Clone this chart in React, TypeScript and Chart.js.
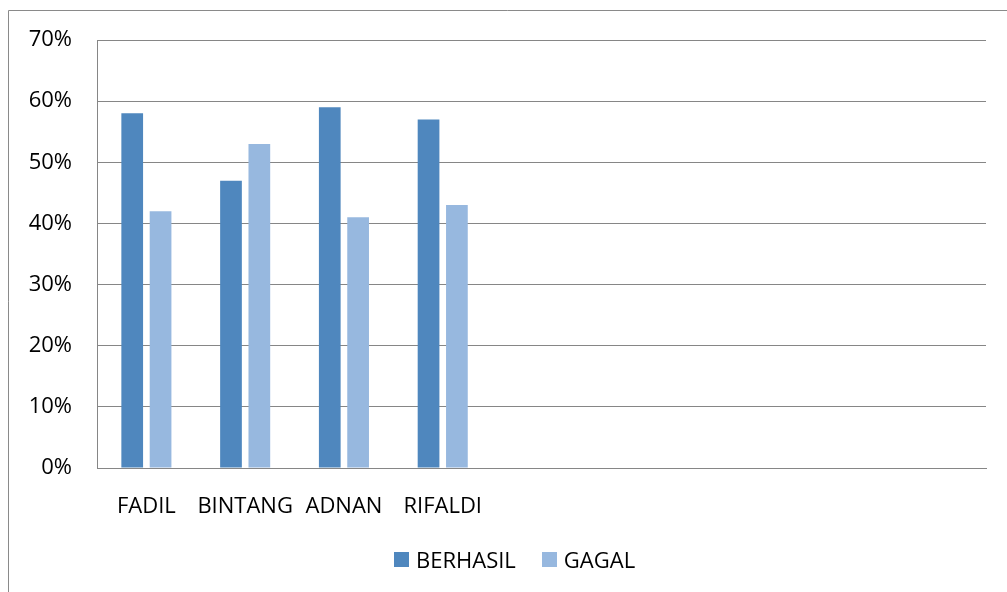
import React, { useEffect, useRef } from "react";
import { Chart, registerables } from "chart.js";

Chart.register(...registerables);

const categories = ["FADIL", "BINTANG", "ADNAN", "RIFALDI", "", "", "", "", ""];
const berhasil = [58, 47, 59, 57];
const gagal = [42, 53, 41, 43];
const yTicks = [0, 10, 20, 30, 40, 50, 60, 70];
const seriesNames = ["BERHASIL", "GAGAL"];
const seriesColors = ["#4F87BE", "#97B8DF"];

const FONT = "'Open Sans', 'Noto Sans', sans-serif";
const GRID = "#868686";

const outerBorder = {
  id: "outerBorder",
  afterDraw(chart: any) {
    const ctx = chart.ctx;
    ctx.save();
    ctx.strokeStyle = "#8a8a8a";
    ctx.lineWidth = 1;
    ctx.beginPath();
    ctx.moveTo(8.5, 592);
    ctx.lineTo(8.5, 10.5);
    ctx.lineTo(1007, 10.5);
    ctx.stroke();
    ctx.restore();
  },
};

export default function App() {
  const ref = useRef<HTMLCanvasElement | null>(null);

  useEffect(() => {
    if (!ref.current) return;
    const chart = new Chart(ref.current, {
      type: "bar",
      data: {
        labels: categories,
        datasets: [
          {
            label: seriesNames[0],
            data: berhasil,
            backgroundColor: seriesColors[0],
            categoryPercentage: 0.574,
            barPercentage: 0.766,
          },
          {
            label: seriesNames[1],
            data: gagal,
            backgroundColor: seriesColors[1],
            categoryPercentage: 0.574,
            barPercentage: 0.766,
          },
        ],
      },
      options: {
        responsive: false,
        animation: false,
        devicePixelRatio: 1,
        layout: { padding: { left: 0, right: 21, top: 40, bottom: 70 } },
        plugins: {
          tooltip: { enabled: false },
          legend: { display: false },
        },
        scales: {
          x: {
            grid: { display: false, drawTicks: false },
            border: { display: true, color: GRID, width: 1 },
            ticks: {
              color: "#000",
              font: { family: FONT, size: 22 },
              padding: 26,
              maxRotation: 0,
              autoSkip: false,
            },
            afterFit(scale: any) {
              scale.height = 54;
            },
          },
          y: {
            min: 0,
            max: 70,
            grid: { color: GRID, lineWidth: 1, drawTicks: false },
            border: { display: true, color: GRID, width: 1 },
            afterBuildTicks(scale: any) {
              scale.ticks = yTicks.map((v) => ({ value: v }));
            },
            ticks: {
              color: "#000",
              font: { family: FONT, size: 22 },
              padding: 25,
              callback: (v: any) => v + "%",
            },
            afterFit(scale: any) {
              scale.width = 97;
            },
          },
        },
      },
      plugins: [outerBorder],
    });
    return () => chart.destroy();
  }, []);

  return (
    <div style={{ position: "absolute", left: 0, top: 0, width: 1007, height: 592, background: "#fff" }}>
      <canvas ref={ref} width={1007} height={592} style={{ display: "block" }} />
      <div
        style={{
          position: "absolute",
          left: 394,
          top: 544,
          height: 30,
          display: "flex",
          alignItems: "center",
          fontFamily: FONT,
          fontSize: 22,
          color: "#000",
          whiteSpace: "nowrap",
          lineHeight: "30px",
        }}
      >
        {seriesNames.map((name, i) => (
          <div key={name} style={{ display: "flex", alignItems: "center", marginRight: i === 0 ? 26 : 0 }}>
            <span style={{ display: "inline-block", width: 15, height: 15, background: seriesColors[i], marginRight: 7 }} />
            <span>{name}</span>
          </div>
        ))}
      </div>
    </div>
  );
}
